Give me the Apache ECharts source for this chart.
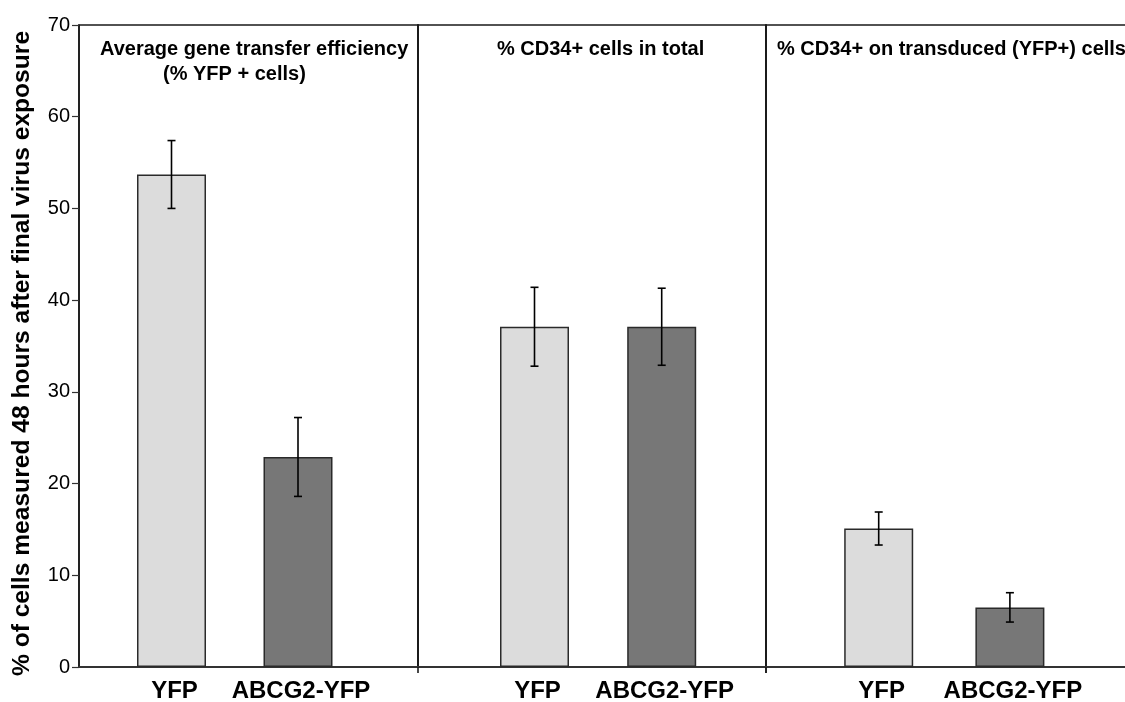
<!DOCTYPE html>
<html>
<head>
<meta charset="utf-8">
<script src="https://cdn.jsdelivr.net/npm/echarts@6/dist/echarts.min.js"></script>
<style>
  html, body { margin: 0; padding: 0; background: #fff; }
  #chart { width: 1125px; height: 702px; }
</style>
</head>
<body>
<div id="chart"></div>
<script>
// ---- data ----
const groups = ['YFP', 'ABCG2-YFP'];
const panelTitleLine1 = ['Average gene transfer efficiency', '% CD34+ cells in total', '% CD34+ on transduced (YFP+) cells'];
const panelTitleLine2 = ['(% YFP + cells)', '', ''];
const yfpMean  = [53.7, 37.1, 15.1];
const yfpErr   = [3.7, 4.3, 1.8];
const abcgMean = [22.9, 37.1, 6.5];
const abcgErr  = [4.3, 4.2, 1.6];
const yName = '% of cells measured 48 hours after final virus exposure';

// ---- layout ----
const FONT = "'Liberation Sans', Arial, Helvetica, sans-serif";
const TOP = 25, BOTTOM = 35;                 // plot area top / bottom margins
const panelLeft  = [79, 418, 766];           // each panel's left edge
const panelWidth = [339, 348, 400];          // last panel runs past the right edge
const barGridLeft  = [108.25, 470.9, 813.1]; // inner grids holding the two bars
const barGridWidth = [253, 254.4, 262.4];
const titleLeft = [[100, 163], [497], [777]];
const titleTop  = [39, 64];

const YMAX = 70, YSTEP = 10;
const fillColors = ['#dcdcdc', '#777777'];

const grids = [], xAxes = [], yAxes = [], series = [], titles = [];

// panel frames
for (let p = 0; p < 3; p++) {
  grids.push({
    left: panelLeft[p], top: TOP, width: panelWidth[p], bottom: BOTTOM,
    outerBoundsMode: 'none', containLabel: false,
    show: true, borderColor: '#1a1a1a', borderWidth: 1.6, backgroundColor: 'transparent'
  });
  xAxes.push({
    gridIndex: p, type: 'category', data: [''], boundaryGap: true,
    axisLine: { show: true, lineStyle: { color: '#333', width: 2 } },
    axisTick: { show: p > 0, length: 6, lineStyle: { color: '#1a1a1a', width: 1.6 } },
    axisLabel: { show: false }
  });
  yAxes.push({
    gridIndex: p, type: 'value', min: 0, max: YMAX, interval: YSTEP,
    splitLine: { show: false },
    axisLine: { show: true, lineStyle: { color: '#1a1a1a', width: 1.6 } },
    axisTick: { show: p === 0, length: 7, lineStyle: { color: '#333', width: 1.2 } },
    axisLabel: { show: p === 0, margin: 9, color: '#000', fontSize: 20, fontFamily: FONT },
    name: p === 0 ? yName : '',
    nameLocation: 'middle', nameRotate: 90, nameGap: 44,
    nameTextStyle: {
      color: '#000', fontSize: 24.6, fontWeight: 700, fontFamily: FONT,
      padding: [0, 15, 0, 0]
    }
  });
}

// bar grids
for (let p = 0; p < 3; p++) {
  const gi = 3 + p;
  grids.push({
    left: barGridLeft[p], width: barGridWidth[p], top: TOP, bottom: BOTTOM,
    outerBoundsMode: 'none', containLabel: false
  });
  xAxes.push({
    gridIndex: gi, type: 'category', data: groups, boundaryGap: true,
    axisLine: { show: false }, axisTick: { show: false },
    axisLabel: {
      interval: 0, margin: 12, color: '#000', fontSize: 24, fontWeight: 'bold', fontFamily: FONT,
      padding: [0, 0, 0, 6]
    }
  });
  yAxes.push({
    gridIndex: gi, type: 'value', min: 0, max: YMAX, interval: YSTEP, show: false
  });

  const means = [yfpMean[p], abcgMean[p]];
  const errs = [yfpErr[p], abcgErr[p]];
  series.push({
    type: 'bar', xAxisIndex: gi, yAxisIndex: gi, barWidth: 69,
    data: means.map((m, i) => ({
      value: m,
      itemStyle: { color: fillColors[i], borderColor: '#2a2a2a', borderWidth: 1.5 }
    })),
    silent: true
  });
  series.push({
    type: 'custom', xAxisIndex: gi, yAxisIndex: gi, silent: true, z: 5,
    data: means.map((m, i) => [i, m - errs[i], m + errs[i]]),
    renderItem: function (params, api) {
      const lo = api.coord([api.value(0), api.value(1)]);
      const hi = api.coord([api.value(0), api.value(2)]);
      const cap = 4;
      const style = { stroke: '#000', lineWidth: 1.6 };
      return {
        type: 'group',
        children: [
          { type: 'line', shape: { x1: lo[0], y1: lo[1], x2: hi[0], y2: hi[1] }, style },
          { type: 'line', shape: { x1: lo[0] - cap, y1: lo[1], x2: lo[0] + cap, y2: lo[1] }, style },
          { type: 'line', shape: { x1: hi[0] - cap, y1: hi[1], x2: hi[0] + cap, y2: hi[1] }, style }
        ]
      };
    }
  });

  // panel headings
  titles.push({
    text: panelTitleLine1[p], left: titleLeft[p][0], top: titleTop[0], padding: 0,
    textStyle: { color: '#000', fontSize: 20, fontWeight: 'bold', fontFamily: FONT }
  });
  if (panelTitleLine2[p]) {
    titles.push({
      text: panelTitleLine2[p], left: titleLeft[p][1], top: titleTop[1], padding: 0,
      textStyle: { color: '#000', fontSize: 20, fontWeight: 'bold', fontFamily: FONT }
    });
  }
}

const chart = echarts.init(document.getElementById('chart'), null, { renderer: 'canvas' });
chart.setOption({
  animation: false,
  backgroundColor: '#fff',
  title: titles,
  grid: grids,
  xAxis: xAxes,
  yAxis: yAxes,
  series: series
});
</script>
</body>
</html>
